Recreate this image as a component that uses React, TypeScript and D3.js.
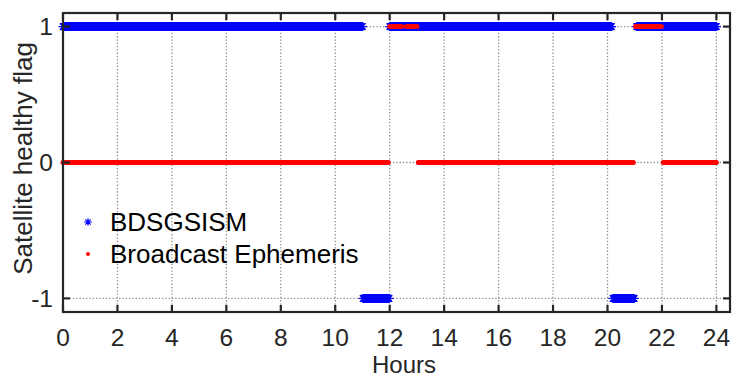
import React from "react";
import * as d3 from "d3";

// Flag segments: [startHour, endHour, flag]
const bdsSegments: [number, number, number][] = [
  [0, 11.0, 1],
  [11.02, 11.98, -1],
  [12.0, 20.15, 1],
  [20.2, 20.98, -1],
  [21.07, 24.0, 1],
];
const beSegments: [number, number, number][] = [
  [0, 11.95, 0],
  [12.0, 12.43, 1],
  [12.6, 13.0, 1],
  [13.05, 20.95, 0],
  [21.03, 21.98, 1],
  [22.05, 24.0, 0],
];
const epochHours = 1 / 120; // 30 s sampling
const xTicks = [0, 2, 4, 6, 8, 10, 12, 14, 16, 18, 20, 22, 24];
const yTicks = [-1, 0, 1];
const legendLabels = ["BDSGSISM", "Broadcast Ephemeris"];

function sample(segs: [number, number, number][]) {
  const pts: { t: number; v: number }[] = [];
  segs.forEach(([a, b, v]) => {
    const n = Math.round((b - a) / epochHours);
    for (let i = 0; i <= n; i++) pts.push({ t: a + i * epochHours, v });
  });
  return pts;
}

const W = 732, H = 378;
const L = 63, R = 730, T = 13, B = 312;
const FONT = "'Liberation Sans', Arial, sans-serif";
const TXT = "#262626";

function asterisk(cx: number, cy: number, r: number) {
  const d = r * 0.7071;
  return `M${cx - r},${cy}H${cx + r}M${cx},${cy - r}V${cy + r}M${cx - d},${cy - d}L${cx + d},${cy + d}M${cx - d},${cy + d}L${cx + d},${cy - d}`;
}

export default function App() {
  const x = d3.scaleLinear().domain([0, 24.5]).range([L, R]);
  const y = d3.scaleLinear().domain([-1.1, 1.1]).range([B, T]);
  const bds = sample(bdsSegments);
  const be = sample(beSegments);
  const bdsPath = bds.map((p) => asterisk(x(p.t), y(p.v), 4.5)).join("");
  const bePath = be
    .map((p) => `M${x(p.t) - 0.01},${y(p.v)}h0.02`)
    .join("");
  const tick = 7;
  return (
    <svg width={W} height={H} style={{ position: "absolute", left: 0, top: 0, background: "#fff" }}>
      <rect x={0} y={0} width={W} height={H} fill="#fff" />
      {/* grid */}
      <g stroke="#8c8c8c" strokeWidth={1.3} strokeDasharray="1.3,2">
        {xTicks.map((t) => (
          <line key={"gx" + t} x1={x(t)} x2={x(t)} y1={T} y2={B} />
        ))}
        {yTicks.map((t) => (
          <line key={"gy" + t} x1={L} x2={R} y1={y(t)} y2={y(t)} />
        ))}
      </g>
      {/* data */}
      <path d={bdsPath} stroke="#0000ff" strokeWidth={1.3} fill="none" />
      <path d={bePath} stroke="#ff0000" strokeWidth={5} strokeLinecap="round" fill="none" />
      {/* axes box & ticks */}
      <g stroke={TXT} strokeWidth={2.2} fill="none">
        <rect x={L} y={T} width={R - L} height={B - T} />
        {xTicks.map((t) => (
          <g key={"tx" + t}>
            <line x1={x(t)} x2={x(t)} y1={B} y2={B - tick} />
            <line x1={x(t)} x2={x(t)} y1={T} y2={T + tick} />
          </g>
        ))}
        {yTicks.map((t) => (
          <g key={"ty" + t}>
            <line x1={L} x2={L + tick} y1={y(t)} y2={y(t)} />
            <line x1={R} x2={R - tick} y1={y(t)} y2={y(t)} />
          </g>
        ))}
      </g>
      {/* tick labels */}
      <g fontFamily={FONT} fontSize={24.5} fill={TXT}>
        {xTicks.map((t) => (
          <text key={"lx" + t} x={x(t)} y={346} textAnchor="middle">
            {t}
          </text>
        ))}
        {yTicks.map((t) => (
          <text key={"ly" + t} x={53} y={y(t) + 8.5} textAnchor="end">
            {t}
          </text>
        ))}
      </g>
      <g fontFamily={FONT} fontSize={24} fill={TXT}>
        <text x={404} y={373} textAnchor="middle">Hours</text>
      </g>
      <g fontFamily={FONT} fontSize={26} fill={TXT}>
        <text transform={`translate(32,158.5) rotate(-90)`} textAnchor="middle">
          Satellite healthy flag
        </text>
      </g>
      {/* legend */}
      <g fontFamily={FONT} fontSize={26} fill="#000">
        <path d={asterisk(88, 222, 3.8)} stroke="#0000ff" strokeWidth={1.2} fill="none" />
        <text x={110} y={231}>{legendLabels[0]}</text>
        <circle cx={88} cy={254} r={2} fill="#ff0000" />
        <text x={110} y={263}>{legendLabels[1]}</text>
      </g>
    </svg>
  );
}
